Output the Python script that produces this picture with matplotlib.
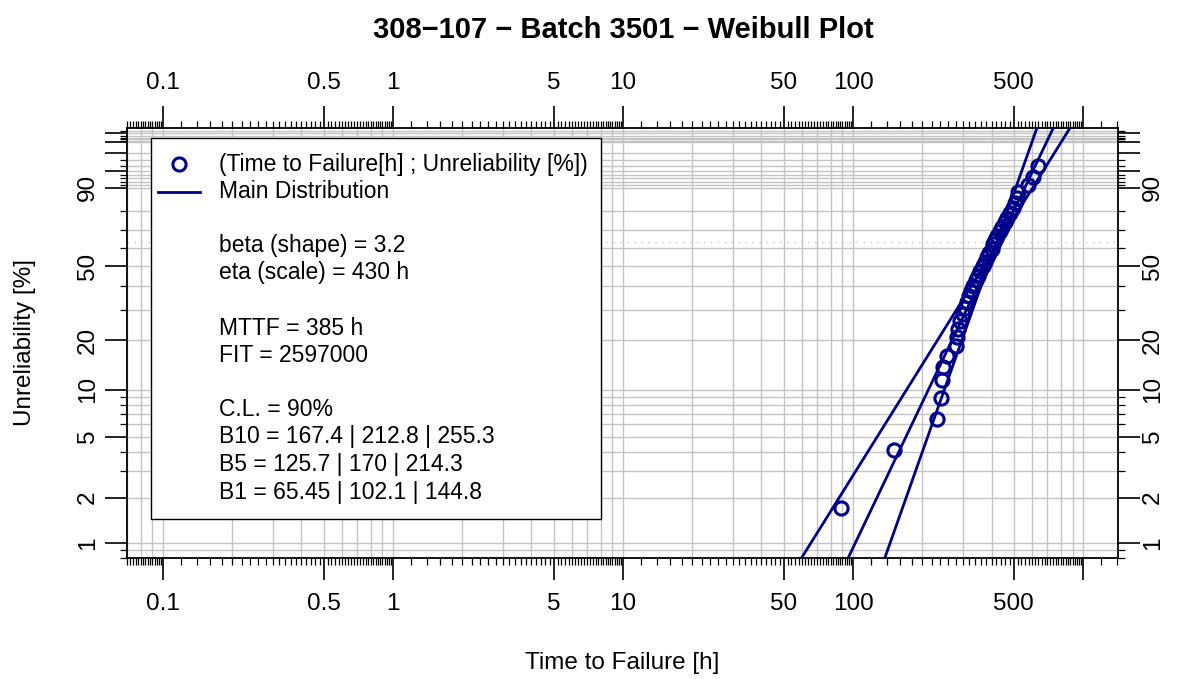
import numpy as np
import matplotlib
matplotlib.use("Agg")
import matplotlib.pyplot as plt
from matplotlib.patches import Rectangle
from matplotlib.lines import Line2D

plt.rcParams['font.family'] = ['Liberation Sans', 'DejaVu Sans']

# failure times [h]
time_h = [89, 150, 231, 241, 244, 246, 255, 280, 282, 287,
          292, 300, 307, 313, 319, 326, 332, 341, 351, 358,
          367, 375, 382, 392, 400, 407, 414, 423, 436, 444,
          456, 466, 482, 496, 506, 515, 522, 577, 609, 639]
# unreliability [%] (median ranks)
unrel_pct = [1.7, 4.1, 6.5, 8.9, 11.4, 13.8, 16.2, 18.6, 21.0, 23.4,
             25.8, 28.3, 30.7, 33.1, 35.5, 37.9, 40.3, 42.8, 45.2, 47.6,
             50.0, 52.4, 54.8, 57.2, 59.7, 62.1, 64.5, 66.9, 69.3, 71.7,
             74.2, 76.6, 79.0, 81.4, 83.8, 86.2, 88.6, 91.1, 93.5, 95.9]

beta, eta = 3.2, 430
# confidence bound lines: time at 1 % and 99 % unreliability
bound_pct = [1, 99]
lower_bound_h = [65.45, 802]
upper_bound_h = [144.8, 599]

legend_lines = ["beta (shape) = 3.2", "eta (scale) = 430 h", None,
                "MTTF = 385 h", "FIT = 2597000", None,
                "C.L. = 90%", "B10 = 167.4 | 212.8 | 255.3",
                "B5 = 125.7 | 170 | 214.3", "B1 = 65.45 | 102.1 | 144.8"]

x_major = [0.1, 0.5, 1, 5, 10, 50, 100, 500, 1000]
x_labels = ['0.1', '0.5', '1', '5', '10', '50', '100', '500', '']
y_major = [1, 2, 5, 10, 20, 50, 90, 95, 98, 99, 99.5]
y_labels = ['1', '2', '5', '10', '20', '50', '90', '', '', '', '']
y_minor = [0.8, 0.9, 3, 4, 6, 7, 8, 9, 30, 40, 60, 70, 80,
           91, 92, 93, 94, 96, 97, 99.1, 99.2, 99.3, 99.4, 99.6]

xlim = (0.0698, 1419)
ylim = (0.8215, 99.678)

W, H = 1178, 679
navy = '#00008B'
grid_c = '#C4C4C4'


def fwd(p):
    p = np.clip(np.asarray(p, dtype=float), 1e-6, 100 - 1e-9)
    return np.log(-np.log(1 - p / 100))


def inv(y):
    return 100 * (1 - np.exp(-np.exp(y)))


fig = plt.figure(figsize=(W / 100, H / 100), dpi=100)
ax = fig.add_axes([127 / W, 1 - 558 / H, 991 / W, 430 / H])
ax.set_xscale('log')
ax.set_yscale('function', functions=(fwd, inv))
ax.set_xlim(*xlim)
ax.set_ylim(*ylim)

# grid
x_grid = [m * 10.0 ** d for d in range(-2, 4) for m in range(1, 10)]
y_grid = sorted(set(y_major + y_minor + [1, 2, 3, 4, 5, 6, 7, 8, 9, 10, 20, 98]))
ax.vlines(x_grid, 0, 1, transform=ax.get_xaxis_transform(), color=grid_c, lw=1, zorder=0)
ax.hlines(y_grid, 0, 1, transform=ax.get_yaxis_transform(), color=grid_c, lw=1, zorder=0)
ax.axhline(inv(0.0), color=grid_c, lw=1, ls=(0, (1, 4)), zorder=0)

# main distribution
yw = np.linspace(fwd(ylim[0]) - 0.2, fwd(ylim[1]) + 0.2, 200)
t_main = eta * np.exp(yw / beta)
ax.plot(t_main, inv(yw), color=navy, lw=2, zorder=3)

# bound lines (straight in Weibull space)
for tb in (lower_bound_h, upper_bound_h):
    lt = np.log(tb)
    yb = fwd(bound_pct)
    slope = (yb[1] - yb[0]) / (lt[1] - lt[0])
    tt = np.exp(lt[0] + (yw - yb[0]) / slope)
    ax.plot(tt, inv(yw), color=navy, lw=2, zorder=3)

ax.plot(time_h, unrel_pct, 'o', ms=9.5, mfc='none', mec=navy, mew=2.2, zorder=4)

# ticks
x_minor = [m * 10.0 ** d for d in range(-2, 4) for m in np.arange(1, 10.01, 0.2)]
x_minor = [v for v in x_minor if xlim[0] <= v <= xlim[1]]
ax.set_xticks(x_major)
ax.set_xticks(x_minor, minor=True)
ax.set_yticks(y_major)
ax.set_yticks(y_minor, minor=True)
ax.tick_params(which='both', direction='out', top=True, right=True, color='black',
               labelbottom=False, labeltop=False, labelleft=False, labelright=False)
ax.tick_params(which='major', length=16, width=1.2)
ax.tick_params(which='minor', length=5, width=0.9)
for s in ax.spines.values():
    s.set_linewidth(1.3)

# tick labels on all four sides
fs = 17.5
xt = ax.get_xaxis_transform()
yt = ax.get_yaxis_transform()
for v, lab in zip(x_major, x_labels):
    if lab:
        ax.text(v, (558 - 604) / 430, lab, transform=xt, fontsize=fs,
                ha='center', va='center', clip_on=False)
        ax.text(v, (558 - 83) / 430, lab, transform=xt, fontsize=fs,
                ha='center', va='center', clip_on=False)
for v, lab in zip(y_major, y_labels):
    if lab:
        ax.text((88 - 127) / 991, v, lab, transform=yt, fontsize=fs, rotation=90,
                ha='center', va='center', clip_on=False)
        ax.text((1153 - 127) / 991, v, lab, transform=yt, fontsize=fs, rotation=90,
                ha='center', va='center', clip_on=False)


# legend box
def fx(px):
    return px / W


def fy(py):
    return 1 - py / H


fig.add_artist(Rectangle((fx(151), fy(519)), fx(601) - fx(151), fy(138) - fy(519),
                         transform=fig.transFigure, fc='white', ec='black', lw=1, zorder=5))
fig.add_artist(Line2D([fx(179)], [fy(164)], marker='o', ms=9.5, mfc='none', mec=navy, mew=2.2,
                      transform=fig.transFigure, zorder=6))
fig.add_artist(Line2D([fx(158), fx(200)], [fy(192), fy(192)], color=navy, lw=2,
                      transform=fig.transFigure, zorder=6))
fs_leg = 16.5
fig.text(fx(219), fy(164), "(Time to Failure[h] ; Unreliability [%])", fontsize=fs_leg,
         va='center', zorder=6)
fig.text(fx(219), fy(192), "Main Distribution", fontsize=fs_leg, va='center', zorder=6)
row_y = [245, 273, None, 328, 355, None, 409, 437, 464, 492]
for txt, ry in zip(legend_lines, row_y):
    if txt:
        fig.text(fx(219), fy(ry), txt, fontsize=fs_leg, va='center', zorder=6)

fig.text(fx(623), fy(30), "308\u2212107 \u2212 Batch 3501 \u2212 Weibull Plot",
         fontsize=21, fontweight='bold', ha='center', va='center')
fig.text(fx(622), fy(663), "Time to Failure [h]", fontsize=17.5, ha='center', va='center')
fig.text(fx(25), fy(343), "Unreliability [%]", fontsize=17.5, ha='center', va='center',
         rotation=90)

fig.savefig('out.png', dpi=100)
